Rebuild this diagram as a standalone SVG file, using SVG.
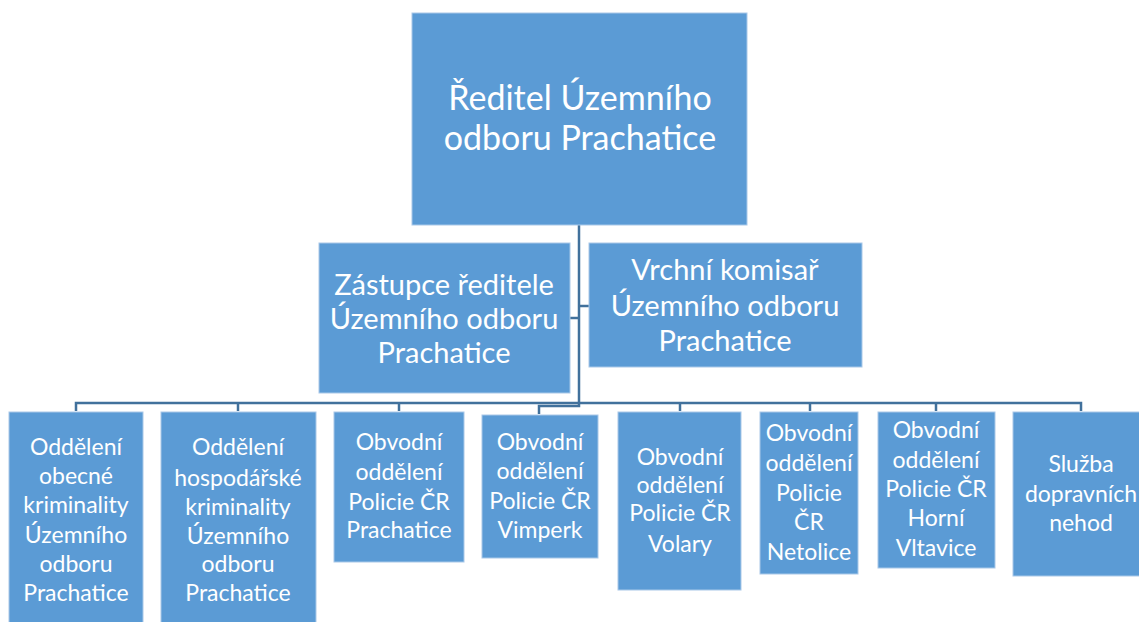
<svg xmlns="http://www.w3.org/2000/svg" width="1139" height="622" viewBox="0 0 1139 622">
<style>
.box{fill:#5B9BD5;stroke:#A9C8E8;stroke-width:1}
.t{fill:#ffffff;font-family:Lato,"Liberation Sans",sans-serif;text-anchor:middle}
.s{font-size:23px}
.m{font-size:29px}
.l{font-size:34px}
.c{fill:none;stroke:#41719C;stroke-width:2.5}
</style>
<rect width="1139" height="622" fill="#ffffff"/>
<g id="connectors">
<path class="c" d="M579,225 V406 H539 V414"/>
<path class="c" d="M579,306 H589"/>
<path class="c" d="M579,318 H570"/>
<path class="c" d="M76,411 V403 H1081 V411"/>
<path class="c" d="M238,403 V411"/>
<path class="c" d="M399,403 V411"/>
<path class="c" d="M680,403 V411"/>
<path class="c" d="M810,403 V411"/>
<path class="c" d="M936,403 V411"/>
</g>
<g id="n-reditel">
<rect class="box" x="412" y="13" width="335" height="212"/>
<text class="t l" x="580" y="110">Ředitel Územního</text>
<text class="t l" x="580" y="150">odboru Prachatice</text>
</g>
<g id="n-zastupce">
<rect class="box" x="319" y="243" width="251" height="150"/>
<text class="t m" x="444" y="295">Zástupce ředitele</text>
<text class="t m" x="444" y="329">Územního odboru</text>
<text class="t m" x="444" y="363">Prachatice</text>
</g>
<g id="n-vrchni">
<rect class="box" x="589" y="243" width="273" height="124"/>
<text class="t m" x="725" y="280">Vrchní komisař</text>
<text class="t m" x="725" y="316">Územního odboru</text>
<text class="t m" x="725" y="351">Prachatice</text>
</g>
<g id="n-obecne">
<rect class="box" x="9" y="412" width="134" height="215"/>
<text class="t s" x="76" y="455">Oddělení</text>
<text class="t s" x="76" y="484">obecné</text>
<text class="t s" x="76" y="513">kriminality</text>
<text class="t s" x="76" y="543">Územního</text>
<text class="t s" x="76" y="572">odboru</text>
<text class="t s" x="76" y="601">Prachatice</text>
</g>
<g id="n-hospodarske">
<rect class="box" x="161" y="412" width="155" height="215"/>
<text class="t s" x="238" y="455">Oddělení</text>
<text class="t s" x="238" y="486">hospodářské</text>
<text class="t s" x="238" y="515">kriminality</text>
<text class="t s" x="238" y="544">Územního</text>
<text class="t s" x="238" y="572">odboru</text>
<text class="t s" x="238" y="601">Prachatice</text>
</g>
<g id="n-prachatice">
<rect class="box" x="334" y="412" width="130" height="150"/>
<text class="t s" x="399" y="450">Obvodní</text>
<text class="t s" x="399" y="480">oddělení</text>
<text class="t s" x="399" y="510">Policie ČR</text>
<text class="t s" x="399" y="538">Prachatice</text>
</g>
<g id="n-vimperk">
<rect class="box" x="482" y="415" width="116" height="143"/>
<text class="t s" x="540" y="450">Obvodní</text>
<text class="t s" x="540" y="479">oddělení</text>
<text class="t s" x="540" y="509">Policie ČR</text>
<text class="t s" x="540" y="538">Vimperk</text>
</g>
<g id="n-volary">
<rect class="box" x="618" y="412" width="123" height="178"/>
<text class="t s" x="680" y="465">Obvodní</text>
<text class="t s" x="680" y="493">oddělení</text>
<text class="t s" x="680" y="521">Policie ČR</text>
<text class="t s" x="680" y="552">Volary</text>
</g>
<g id="n-netolice">
<rect class="box" x="760" y="412" width="98" height="162"/>
<text class="t s" x="809" y="441">Obvodní</text>
<text class="t s" x="809" y="471">oddělení</text>
<text class="t s" x="809" y="501">Policie</text>
<text class="t s" x="809" y="530">ČR</text>
<text class="t s" x="809" y="560">Netolice</text>
</g>
<g id="n-vltavice">
<rect class="box" x="878" y="412" width="117" height="156"/>
<text class="t s" x="936" y="438">Obvodní</text>
<text class="t s" x="936" y="468">oddělení</text>
<text class="t s" x="936" y="497">Policie ČR</text>
<text class="t s" x="936" y="526">Horní</text>
<text class="t s" x="936" y="556">Vltavice</text>
</g>
<g id="n-sluzba">
<rect class="box" x="1013" y="412" width="136" height="164"/>
<text class="t s" x="1081" y="472">Služba</text>
<text class="t s" x="1081" y="502">dopravních</text>
<text class="t s" x="1081" y="531">nehod</text>
</g>
</svg>
